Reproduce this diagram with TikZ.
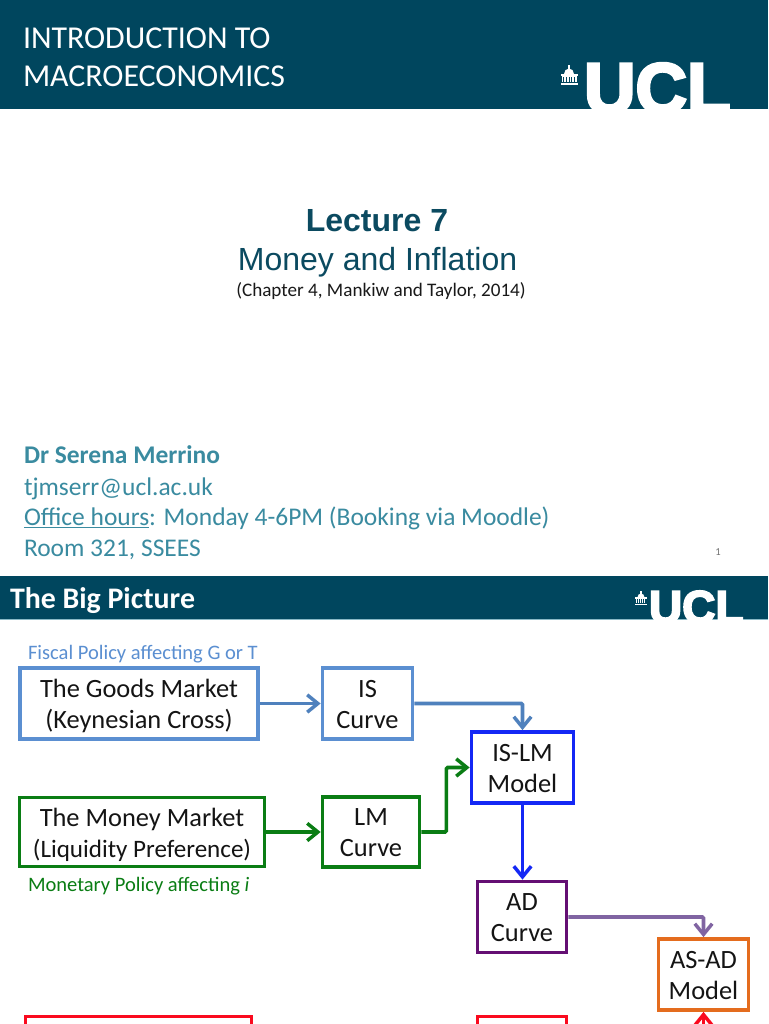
\documentclass[tikz,border=0pt]{standalone}
\usepackage{fontspec}
\setmainfont{Carlito}
\newfontfamily\arialf{Liberation Sans}
\newfontfamily\logof[FakeBold=4]{Liberation Sans Bold}
\usetikzlibrary{arrows.meta}
\definecolor{band}{RGB}{0,70,94}
\definecolor{titlec}{RGB}{11,74,96}
\definecolor{teal}{RGB}{58,139,160}
\definecolor{steel}{RGB}{91,143,209}
\definecolor{arrowsteel}{RGB}{79,129,189}
\definecolor{dgreen}{RGB}{10,125,20}
\definecolor{bblue}{RGB}{20,40,245}
\definecolor{purp}{RGB}{100,15,115}
\definecolor{lpurp}{RGB}{128,100,162}
\definecolor{orng}{RGB}{228,108,30}
\definecolor{rred}{RGB}{250,10,30}
\newcommand{\fs}[1]{\fontsize{#1}{#1}\selectfont}
\newcommand{\twolines}[3][2.2pt]{\raisebox{-#1}[\height][\depth]{\setlength\tabcolsep{0pt}\begin{tabular}{c}#2\\#3\end{tabular}}}
\newcommand{\domeicon}{%
\fill[white] (-8.5,8) rectangle (8.5,10);
\fill[white] (-7.5,1.5) rectangle (7.5,7);
\fill[white] (-8.5,-1) rectangle (8.5,1);
\fill[white] (-5,-1) arc (180:360:5 and 5.5) -- cycle;
\fill[white] (-0.8,-10) rectangle (0.8,-5);
\foreach \i in {-5.6,-2.8,0,2.8,5.6} \fill[band] (\i-0.5,2) rectangle (\i+0.5,7);
}
\tikzset{
  x=0.75pt,y=-0.75pt,
  flowbox/.style={draw=#1,line width=2.8pt,fill=white,inner sep=0pt,font=\fs{19.8}\linespread{1.19}\selectfont,text=black!92},
  conn/.style={draw=#1,line width=2.8pt,-{Straight Barb[length=8pt,width=13pt,line width=2.6pt]},rounded corners=1pt},
  lefttext/.style={anchor=base west,inner sep=0pt,outer sep=0pt},
  midtext/.style={anchor=base,inner sep=0pt,outer sep=0pt},
}
\begin{document}
\begin{tikzpicture}
\useasboundingbox (0,0) rectangle (768,1024);
\clip (0,0) rectangle (768,1024);
\fill[white] (0,0) rectangle (768,1024);
% ---- slide 1
\fill[band] (0,0) rectangle (768,109);
\node[lefttext,text=white,font=\fs{23.9}] (t1a) at (23,49) {INTRODUCTION TO};
\node[lefttext,text=white,font=\fs{23.9}] (t1b) at (23,86) {MACROECONOMICS};
\begin{scope}
\clip (540,50) rectangle (768,109);
\node[lefttext,text=white,font=\logof\fs{53.5}] (logo1) at (584,113) {UCL};
\end{scope}
\begin{scope}[shift={(569,75)}]
\domeicon
\end{scope}
\node[midtext,text=titlec,font=\arialf\bfseries\fs{24}] (lec) at (377,231) {Lecture 7};
\node[midtext,text=titlec,font=\arialf\fs{24}] (mon) at (377.5,270) {Money and Inflation};
\node[midtext,text=black!90,font=\fs{14.35}] (chap) at (381,296) {(Chapter 4, Mankiw and Taylor, 2014)};
\node[lefttext,text=teal,font=\bfseries\fs{19.1}] (dr) at (24,463) {Dr Serena Merrino};
\node[lefttext,text=teal,font=\fs{19.1}] (mail) at (24,495) {tjmserr@ucl.ac.uk};
\node[lefttext,text=teal,font=\fs{19.1}] (off) at (24,525) {\underline{Office hours}: Monday 4-6PM (Booking via Moodle)};
\node[lefttext,text=teal,font=\fs{19.1}] (room) at (24,556) {Room 321, SSEES};
\node[midtext,text=black!55,font=\fs{8}] (pg) at (718,555) {1};
% ---- slide 2
\fill[band] (0,576) rectangle (768,619);
\draw[teal!60,line width=0.6pt] (0,619.4) -- (768,619.4);
\node[lefttext,text=white,font=\bfseries\fs{22.4}] (t2) at (10,608) {The Big Picture};
\begin{scope}
\clip (620,580) rectangle (768,619);
\node[lefttext,text=white,font=\logof\fs{34.5}] (logo2) at (649,623) {UCL};
\end{scope}
\begin{scope}[shift={(641,598)},scale=0.7]
\domeicon
\end{scope}
% boxes
\node[lefttext,text=steel,font=\fs{15.4}] (fiscal) at (28,659) {Fiscal Policy affecting G or T};
\node[flowbox=steel,minimum width=238pt*0.75,minimum height=71pt*0.75] (goods) at (139,703.5) {\twolines{The Goods Market}{(Keynesian Cross)}};
\node[flowbox=steel,minimum width=90pt*0.75,minimum height=71pt*0.75] (is) at (367.5,703.5) {\twolines{IS}{Curve}};
\node[flowbox=bblue,minimum width=102pt*0.75,minimum height=71pt*0.75] (islm) at (522.5,767.5) {\twolines{IS-LM}{Model}};
\node[flowbox=dgreen,minimum width=245pt*0.75,minimum height=69pt*0.75] (money) at (142,832) {\twolines[2.7pt]{The Money Market}{\fontsize{18.8}{23.5}\selectfont (Liquidity Preference)}};
\node[flowbox=dgreen,minimum width=97pt*0.75,minimum height=70pt*0.75] (lm) at (371,832) {\twolines{LM}{Curve}};
\node[lefttext,text=dgreen,font=\fs{15.4}] (mon2) at (28,891) {Monetary Policy affecting \textit{i}};
\node[flowbox=purp,minimum width=89pt*0.75,minimum height=71pt*0.75] (ad) at (522,917) {\twolines{AD}{Curve}};
\node[flowbox=orng,minimum width=90pt*0.75,minimum height=71pt*0.75] (asad) at (703.5,974.5) {\twolines{AS-AD}{Model}};
\node[flowbox=rred,minimum width=226pt*0.75,minimum height=71pt*0.75] (redl) at (138.5,1052) {};
\node[flowbox=rred,minimum width=89pt*0.75,minimum height=71pt*0.75] (redr) at (522,1052) {};
\coordinate (redend) at (703.5,1040);
% connectors
\draw[conn=arrowsteel] (goods.east) -- (is.west);
\draw[conn=arrowsteel] (is.east) -| (islm.north);
\draw[conn=dgreen] (money.east) -- (lm.west);
\draw[conn=dgreen] (lm.east) -- ++(25,0) |- (islm.west);
\draw[conn=bblue] (islm.south) -- (islm.south |- ad.north);
\draw[conn=lpurp] (ad.east) -| (asad.north);
\draw[conn=rred] (redend) -- (asad.south);
\end{tikzpicture}
\end{document}
